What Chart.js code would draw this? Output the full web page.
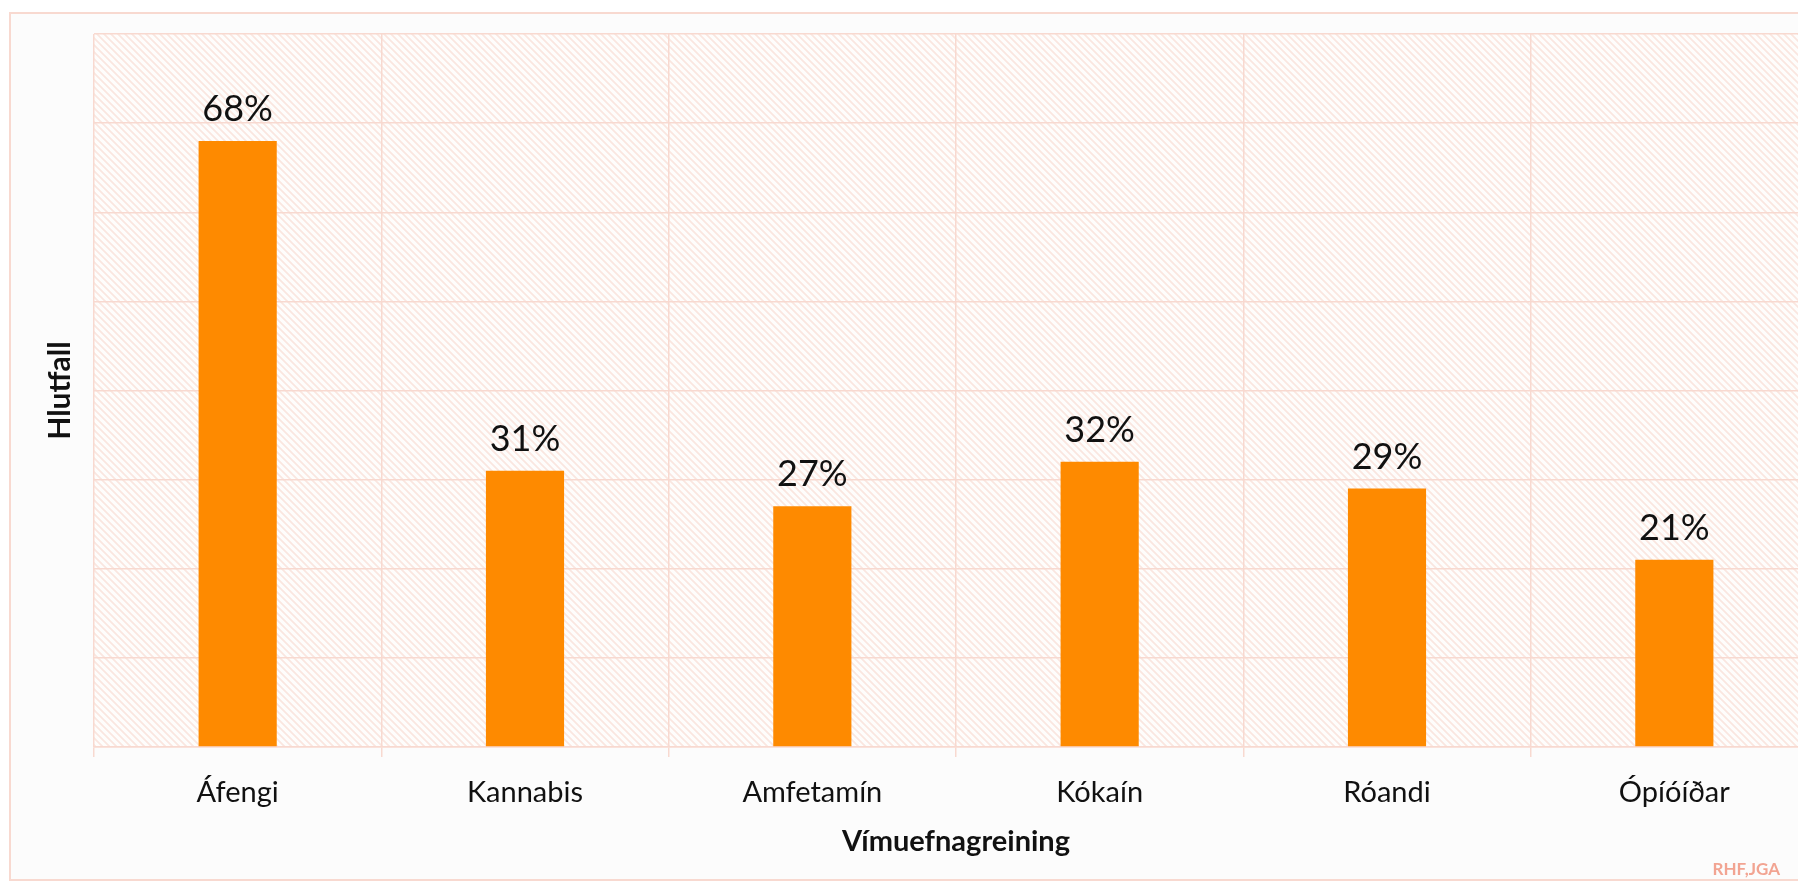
<!DOCTYPE html>
<html>
<head>
<meta charset="utf-8">
<script src="https://cdn.jsdelivr.net/npm/chart.js@4"></script>
<style>
  html, body { margin: 0; padding: 0; background: #ffffff; overflow: hidden; }
  #wrap { position: absolute; left: 0; top: 0; width: 1830px; height: 883px; }
</style>
</head>
<body>
<div id="wrap"><canvas id="chart" width="1830" height="883"></canvas></div>
<script>
// categories and values (percent)
const categories = ['Áfengi', 'Kannabis', 'Amfetamín', 'Kókaín', 'Róandi', 'Ópíóíðar'];
const shares = [68, 31, 27, 32, 29, 21];
const yTicks = [0, 10, 20, 30, 40, 50, 60, 70, 80];

const pink = '#f8d9d0';

// diagonal hatch for the plot area
function hatch() {
  const c = document.createElement('canvas');
  c.width = 7; c.height = 7;
  const g = c.getContext('2d');
  g.fillStyle = '#fefdfc';
  g.fillRect(0, 0, 7, 7);
  g.strokeStyle = '#fae6e0';
  g.lineWidth = 1.8;
  g.beginPath();
  g.moveTo(-2, -2); g.lineTo(9, 9);
  g.moveTo(-9, -2); g.lineTo(2, 9);
  g.moveTo(5, -2); g.lineTo(16, 9);
  g.stroke();
  return c;
}

const background = {
  id: 'background',
  beforeDraw(chart) {
    const { ctx, chartArea: a } = chart;
    ctx.save();
    ctx.fillStyle = '#fcfcfc';
    ctx.fillRect(10, 13, 1816, 867);
    ctx.strokeStyle = pink;
    ctx.lineWidth = 2;
    ctx.strokeRect(10, 13, 1816, 867);
    ctx.fillStyle = ctx.createPattern(hatch(), 'repeat');
    ctx.fillRect(a.left, a.top, a.right - a.left, a.bottom - a.top);
    // credit in the corner
    ctx.font = 'bold 17px Lato';
    ctx.fillStyle = '#f2a492';
    ctx.textAlign = 'right';
    ctx.textBaseline = 'alphabetic';
    ctx.fillText('RHF,JGA', 1780, 875);
    ctx.restore();
  }
};

const valueLabels = {
  id: 'valueLabels',
  afterDatasetsDraw(chart) {
    const { ctx } = chart;
    const meta = chart.getDatasetMeta(0);
    ctx.save();
    ctx.font = '36px Lato';
    ctx.fillStyle = '#111111';
    ctx.textAlign = 'center';
    ctx.textBaseline = 'alphabetic';
    meta.data.forEach((bar, i) => {
      ctx.fillText(shares[i] + '%', bar.x, bar.y - 20);
    });
    ctx.restore();
  }
};

function draw() {
  Chart.defaults.font.family = 'Lato';
  Chart.defaults.color = '#111111';
  new Chart(document.getElementById('chart'), {
    type: 'bar',
    data: {
      labels: categories,
      datasets: [{
        data: shares,
        backgroundColor: '#fe8a00',
        borderWidth: 0,
        barPercentage: 0.272,
        categoryPercentage: 1
      }]
    },
    options: {
      responsive: false,
      animation: false,
      layout: { padding: { left: 10, top: 34, right: 12, bottom: 10 } },
      plugins: { legend: { display: false }, tooltip: { enabled: false } },
      scales: {
        x: {
          grid: { color: pink, lineWidth: 1.5, tickLength: 10, offset: true },
          border: { color: pink, width: 1.5 },
          ticks: { font: { size: 29 }, padding: 18, maxRotation: 0 },
          title: { display: true, text: 'Vímuefnagreining', font: { size: 29, weight: 'bold' }, padding: { top: 0, bottom: 14 } },
          afterFit(s) { s.height = 126; }
        },
        y: {
          min: yTicks[0],
          max: yTicks[yTicks.length - 1],
          afterBuildTicks(s) { s.ticks = yTicks.map(v => ({ value: v })); },
          grid: { color: pink, lineWidth: 1.5, drawTicks: false },
          border: { display: false },
          ticks: { display: false },
          title: { display: true, text: 'Hlutfall', font: { size: 30, weight: 'bold' }, padding: { top: 32, bottom: 0 } },
          afterFit(s) { s.width = 84; }
        }
      }
    },
    plugins: [background, valueLabels]
  });
}

Promise.all([
  document.fonts.load('29px Lato'),
  document.fonts.load('bold 29px Lato')
]).then(draw, draw);
</script>
</body>
</html>
